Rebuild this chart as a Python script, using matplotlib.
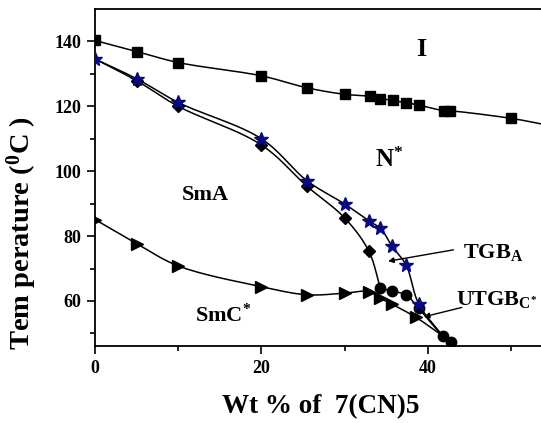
import numpy as np
import matplotlib
matplotlib.use("Agg")
import matplotlib.pyplot as plt

plt.rcParams['font.family'] = ['Liberation Serif', 'DejaVu Serif']
plt.rcParams['font.weight'] = 'bold'
plt.rcParams['mathtext.fontset'] = 'custom'
plt.rcParams['mathtext.rm'] = 'Liberation Serif:bold'
plt.rcParams['mathtext.it'] = 'Liberation Serif:bold'
plt.rcParams['mathtext.bf'] = 'Liberation Serif:bold'

# ---- data ----
# I -> N* transition (squares)
iso_x = [0, 5, 10, 20, 25.5, 30, 33, 34.3, 35.8, 37.4, 38.9, 42.0, 42.7, 50]
iso_y = [140.3, 136.9, 133.5, 129.4, 125.7, 123.7, 123.1, 122.4, 121.8, 121.1, 120.4, 118.6, 118.6, 116.3]
iso_end_x = 54.0
iso_end_y = 114.4

# N* -> TGB_A (stars)
star_x = [0, 5, 10, 20, 25.5, 30, 32.9, 34.3, 35.7, 37.4, 38.9]
star_y = [134.6, 128.5, 121.2, 110.0, 97.0, 89.9, 84.7, 82.4, 76.9, 71.0, 59.1]

# TGB_A -> SmA (diamonds)
dia_x = [0, 5, 10, 20, 25.5, 30, 32.9]
dia_y = [134.6, 127.9, 120.0, 108.1, 95.3, 85.6, 75.4]

# SmA/TGB_A -> SmC*/UTGB_C* (circles)
circ_x = [34.3, 35.7, 37.4, 38.9, 41.8, 42.8]
circ_y = [63.9, 63.1, 61.8, 57.7, 49.2, 47.2]

# SmC* (triangles)
tri_x = [0, 5, 10, 20, 25.5, 30, 32.9, 34.3, 35.7, 38.6]
tri_y = [85.1, 77.7, 70.8, 64.4, 61.9, 62.4, 62.9, 60.8, 59.0, 54.9]

xticks = [0, 20, 40]
yticks = [60, 80, 100, 120, 140]

XS, YS = 8.3, 3.25  # approx pixels per data unit, for smooth curve shaping


def catmull_rom(xs, ys, n=30):
    p = np.column_stack([np.asarray(xs, float) * XS, np.asarray(ys, float) * YS])
    p = np.vstack([2 * p[0] - p[1], p, 2 * p[-1] - p[-2]])
    out = []
    alpha = 0.5
    for i in range(1, len(p) - 2):
        p0, p1, p2, p3 = p[i - 1], p[i], p[i + 1], p[i + 2]
        t0 = 0.0
        t1 = t0 + max(np.linalg.norm(p1 - p0), 1e-6) ** alpha
        t2 = t1 + max(np.linalg.norm(p2 - p1), 1e-6) ** alpha
        t3 = t2 + max(np.linalg.norm(p3 - p2), 1e-6) ** alpha
        t = np.linspace(t1, t2, n)[:, None]
        a1 = (t1 - t) / (t1 - t0) * p0 + (t - t0) / (t1 - t0) * p1
        a2 = (t2 - t) / (t2 - t1) * p1 + (t - t1) / (t2 - t1) * p2
        a3 = (t3 - t) / (t3 - t2) * p2 + (t - t2) / (t3 - t2) * p3
        b1 = (t2 - t) / (t2 - t0) * a1 + (t - t0) / (t2 - t0) * a2
        b2 = (t3 - t) / (t3 - t1) * a2 + (t - t1) / (t3 - t1) * a3
        c = (t2 - t) / (t2 - t1) * b1 + (t - t1) / (t2 - t1) * b2
        out.append(c if i == 1 else c[1:])
    c = np.vstack(out)
    return c[:, 0] / XS, c[:, 1] / YS


fig = plt.figure(figsize=(5.41, 4.23), dpi=100)
ax = fig.add_axes([0.1756, 0.1827, 0.8244, 0.796])

lw = 1.1
cx, cy = catmull_rom(iso_x + [iso_end_x], iso_y + [iso_end_y])
ax.plot(cx, cy, color='black', lw=lw, zorder=2)
cx, cy = catmull_rom(star_x + [circ_x[4]], star_y + [circ_y[4]])
ax.plot(cx, cy, color='black', lw=lw, zorder=2)
cx, cy = catmull_rom(dia_x + [circ_x[0]], dia_y + [circ_y[0]])
ax.plot(cx, cy, color='black', lw=lw, zorder=2)
cx, cy = catmull_rom(circ_x, circ_y)
ax.plot(cx, cy, color='black', lw=lw, zorder=2)
cx, cy = catmull_rom(tri_x + [circ_x[4]], tri_y + [circ_y[4]])
ax.plot(cx, cy, color='black', lw=lw, zorder=2)

ax.plot(iso_x, iso_y, 's', color='black', ms=7.5, ls='none', zorder=3)
ax.plot(dia_x[1:], dia_y[1:], 'D', color='black', ms=6.5, ls='none', zorder=3)
ax.plot(star_x, star_y, '*', color='#0a0a80', ms=10.5, ls='none', zorder=4)
ax.plot(circ_x, circ_y, 'o', color='black', ms=7.5, ls='none', zorder=3)
ax.plot(tri_x, tri_y, '>', color='black', ms=8, ls='none', zorder=3)

ax.set_xlim(0, 53.6)
ax.set_ylim(46.2, 150)
ax.set_xticks(xticks)
ax.set_xticks([10, 30, 50], minor=True)
ax.set_yticks(yticks)
ax.set_yticks([50, 70, 90, 110, 130], minor=True)
ax.tick_params(which='major', direction='out', length=6, width=1.2, labelsize=13, pad=4)
ax.tick_params(which='minor', direction='out', length=3.5, width=1.2)
for lab in ax.get_xticklabels() + ax.get_yticklabels():
    lab.set_fontweight('bold')
ax.spines['right'].set_visible(False)
for s in ['left', 'bottom', 'top']:
    ax.spines[s].set_linewidth(1.3)

ax.set_xlabel('Wt % of  7(CN)5', fontsize=19.5, fontweight='bold')
ax.xaxis.set_label_coords(0.507, -0.145)
ax.set_ylabel('Tem perature ($^{0}$C )', fontsize=20.5, fontweight='bold')
ax.yaxis.set_label_coords(-0.126, 0.335)

ax.text(39.2, 137.4, 'I', fontsize=19, fontweight='bold', ha='center', va='center')
ax.text(35.3, 103.4, 'N$^{*}$', fontsize=18, fontweight='bold', ha='center', va='center')
ax.text(13.3, 92.6, 'SmA', fontsize=16, fontweight='bold', ha='center', va='center')
ax.text(15.4, 55.7, 'SmC$^{*}$', fontsize=16, fontweight='bold', ha='center', va='center')
ax.text(47.8, 75.0, 'TGB$_{\\mathrm{A}}$', fontsize=16, fontweight='bold', ha='center', va='center')
ax.text(48.3, 60.5, 'UTGB$_{\\mathrm{C}^{*}}$', fontsize=16, fontweight='bold', ha='center', va='center')

ax.annotate('', xy=(34.9, 72.1), xytext=(43.4, 75.9),
            arrowprops=dict(arrowstyle='-|>', color='black', lw=1.0, mutation_scale=8))
ax.annotate('', xy=(39.2, 54.9), xytext=(44.4, 58.2),
            arrowprops=dict(arrowstyle='-|>', color='black', lw=1.0, mutation_scale=8))

fig.savefig('out.png', dpi=100)
